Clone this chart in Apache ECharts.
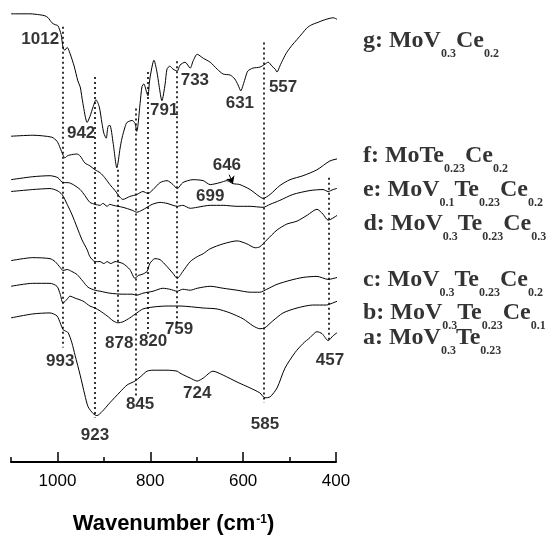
<!DOCTYPE html>
<html><head><meta charset="utf-8">
<script src="https://cdn.jsdelivr.net/npm/echarts@6/dist/echarts.min.js"></script>
<style>html,body{margin:0;padding:0;background:#fff}#c{width:555px;height:540px}</style>
</head><body><div id="c"></div>
<script>
// Wavenumber (cm-1) vs. offset transmittance (arbitrary units)
const curveG = [[1100,454],[1059,454],[1038,453],[1027,452],[1020,450],[1012,445],[1005,443],[999,442],[992,433],[988,420],[984,417],[979,420],[973,414],[964,401],[956,386],[951,380],[945,363],[936,344],[930,350],[923,360],[917,367],[910,360],[904,343],[900,333],[895,328],[891,340],[887,341],[880,323],[872,298],[865,318],[861,328],[854,340],[850,344],[839,346],[833,343],[829,335],[822,363],[818,380],[814,383],[807,373],[805,371],[801,388],[792,407],[786,396],[781,381],[775,366],[768,383],[764,398],[758,401],[751,398],[742,396],[736,402],[725,405],[714,399],[708,406],[699,413],[686,409],[671,405],[656,398],[643,393],[628,392],[618,388],[611,382],[605,376],[600,382],[596,388],[590,396],[579,399],[564,400],[553,403],[546,405],[538,401],[531,398],[527,395],[521,401],[514,408],[506,415],[495,422],[484,428],[473,434],[462,440],[452,443],[441,445],[424,448],[406,450],[396,448],[385,445],[374,443],[366,442],[359,438]];
const curveF = [[1100,330],[1053,331],[1012,329],[1001,325],[994,318],[988,311],[984,308],[979,310],[973,311],[958,312],[951,310],[941,303],[930,300],[919,296],[908,293],[898,288],[887,281],[876,275],[865,268],[859,266],[844,269],[829,271],[816,274],[805,272],[794,276],[779,283],[764,285],[751,281],[742,277],[730,283],[708,286],[686,285],[671,281],[650,283],[635,285],[622,282],[607,281],[585,276],[568,270],[557,267],[542,271],[521,280],[499,286],[471,290],[441,296],[413,305],[391,308],[370,314],[359,313]];
const curveE = [[1100,286],[1053,289],[1016,290],[999,288],[988,283],[977,283],[966,281],[951,276],[941,270],[930,263],[919,261],[908,260],[902,262],[893,259],[887,261],[880,260],[859,258],[839,255],[829,253],[818,255],[807,258],[796,261],[779,263],[764,262],[751,260],[742,259],[730,260],[714,257],[699,258],[671,260],[643,260],[613,259],[585,259],[557,258],[542,261],[521,265],[493,271],[456,275],[428,276],[417,274],[406,276],[391,278],[359,280]];
const curveD = [[1100,274],[1053,276],[1016,277],[1001,275],[990,271],[979,261],[969,251],[958,238],[947,225],[936,215],[930,208],[919,203],[908,203],[900,201],[893,203],[885,201],[876,203],[859,201],[844,195],[833,186],[826,189],[818,190],[807,193],[801,201],[790,206],[779,205],[764,198],[751,191],[742,186],[730,193],[714,203],[699,208],[686,211],[671,216],[643,221],[613,224],[592,221],[574,217],[564,218],[549,225],[527,235],[506,241],[484,244],[462,250],[441,256],[428,251],[417,245],[397,250],[385,255],[370,260],[355,251]];
const curveC = [[1100,204],[1053,207],[1016,206],[1005,203],[994,197],[988,194],[979,195],[969,193],[958,190],[945,183],[934,177],[919,174],[908,173],[887,171],[859,170],[839,170],[829,169],[816,171],[794,173],[773,176],[758,175],[742,173],[730,175],[714,174],[699,176],[671,178],[643,176],[613,174],[585,172],[564,172],[549,175],[527,180],[499,184],[471,187],[441,188],[417,185],[397,187],[370,191],[355,190]];
const curveB = [[1100,178],[1053,181],[1016,181],[1001,178],[994,170],[988,161],[979,165],[973,168],[962,166],[945,163],[930,158],[919,156],[908,153],[893,148],[880,143],[870,141],[859,142],[844,146],[829,151],[816,155],[794,157],[764,158],[736,158],[686,156],[656,155],[628,151],[600,145],[579,138],[564,135],[553,136],[536,143],[514,151],[484,156],[450,159],[420,159],[413,160],[391,164],[370,167],[355,169]];
const curveA = [[1100,146],[1053,150],[1016,151],[1001,148],[994,141],[988,134],[984,133],[977,131],[969,121],[962,108],[951,88],[941,68],[934,56],[923,49],[915,47],[904,51],[887,60],[865,71],[850,78],[833,82],[822,86],[807,92],[794,93],[764,93],[742,92],[736,90],[714,85],[699,82],[686,85],[665,92],[643,88],[613,81],[585,75],[564,70],[553,65],[542,66],[527,75],[510,95],[488,111],[471,120],[456,126],[441,132],[430,130],[417,123],[406,128],[391,133],[376,136],[355,136]];

// sample formulas: [main text, subscript] pairs
const sampleNames = ['g','f','e','d','c','b','a'];
const sampleFormulas = [
  [['g: MoV','0.3'],['Ce','0.2']],
  [['f: MoTe','0.23'],['Ce','0.2']],
  [['e: MoV','0.1'],['Te','0.23'],['Ce','0.2']],
  [['d: MoV','0.3'],['Te','0.23'],['Ce','0.3']],
  [['c: MoV','0.3'],['Te','0.23'],['Ce','0.2']],
  [['b: MoV','0.3'],['Te','0.23'],['Ce','0.1']],
  [['a: MoV','0.3'],['Te','0.23']]
];
const sampleLabelX = [342,342,342,341,342,342,342];
const sampleLabelY = [426,310,275,241,184,151,125];

// band annotations
const bandText = ['1012','942','791','733','631','557','646','699','993','878','820','759','457','845','724','585','923'];
const bandTextX = [1037,949,770,704,607,514,635,671,994,867,794,738,413,822,699,553,919];
const bandTextY = [428,333,356,387,363,380,301,269,102,120,122,134,103,58,70,38,27];

// dotted guide lines
const guideX = [988,919,870,831,805,742,555,415];
const guideTop = [441,390,296,358,395,406,425,288];
const guideBottom = [116,45,140,66,130,140,60,121];

// arrow 646
const arrowFrom = [630,291];
const arrowTo = [622,282];

// axis ticks
const majorTicks = [400,600,800,1000];
const minorTicks = [500,700,900,1100];

const curves = [curveG, curveF, curveE, curveD, curveC, curveB, curveA];

function buildFormula(parts){
  return parts.map(p => '{m|' + p[0] + '}{s|' + p[1] + '}').join('');
}

const chart = echarts.init(document.getElementById('c'), null, {renderer:'canvas'});

const series = curves.map((d, i) => ({
  name: sampleNames[i],
  type: 'line',
  data: d,
  showSymbol: false,
  symbol: 'none',
  smooth: 0.25,
  clip: false,
  silent: true,
  lineStyle: {color: '#000', width: 1}
}));

series.push({
  type: 'scatter',
  symbolSize: 0,
  clip: false,
  silent: true,
  data: bandText.map((t, i) => [bandTextX[i], bandTextY[i], t]),
  label: {
    show: true, position: 'inside',
    formatter: p => p.value[2],
    fontFamily: 'Liberation Sans, Arial', fontWeight: 'bold', fontSize: 17, color: '#000'
  },
  markLine: {
    silent: true, symbol: ['none','none'], animation: false,
    label: {show: false},
    lineStyle: {color: '#000', width: 1.6, type: [2,3]},
    data: guideX.map((x, i) => [{coord: [x, guideTop[i]]}, {coord: [x, guideBottom[i]]}])
      .concat([[{coord: arrowFrom, lineStyle: {type: 'solid', width: 1}, symbol: 'none'}, {coord: arrowTo, symbol: 'arrow', symbolSize: 7}]])
  }
});

series.push({
  type: 'scatter',
  symbolSize: 0,
  clip: false,
  silent: true,
  data: sampleFormulas.map((f, i) => [sampleLabelX[i], sampleLabelY[i], buildFormula(f)]),
  label: {
    show: true, position: 'inside', align: 'left', verticalAlign: 'middle',
    formatter: p => p.value[2],
    rich: {
      m: {fontFamily: 'Liberation Serif, Times New Roman', fontWeight: 'bold', fontSize: 24, lineHeight: 25, verticalAlign: 'top', color: '#000'},
      s: {fontFamily: 'Liberation Serif, Times New Roman', fontWeight: 'bold', fontSize: 12, lineHeight: 12, padding: [19,0,0,0], verticalAlign: 'top', color: '#000'}
    }
  }
});

chart.setOption({
  animation: false,
  backgroundColor: '#fff',
  grid: {left: 11, right: 219, top: 0, bottom: 72, containLabel: false},
  xAxis: [{
    type: 'value', min: 400, max: 1100, interval: 100, inverse: true, position: 'bottom',
    axisLine: {show: true, lineStyle: {color: '#000', width: 2}},
    axisTick: {show: true, inside: true, length: 10, lineStyle: {color: '#000', width: 1.5}, customValues: majorTicks},
    axisLabel: {show: true, customValues: majorTicks, formatter: v => String(v), color: '#000', fontSize: 17, margin: 11, fontFamily: 'Liberation Sans, Arial'},
    splitLine: {show: false},
    name: '{t|Wavenumber (cm}{u|-1}{t|)}',
    nameLocation: 'middle', nameGap: 51,
    nameTextStyle: {
      rich: {
        t: {fontFamily: 'Liberation Sans, Arial', fontWeight: 'bold', fontSize: 22, color: '#000', lineHeight: 24, verticalAlign: 'top'},
        u: {fontFamily: 'Liberation Sans, Arial', fontWeight: 'bold', fontSize: 12, color: '#000', lineHeight: 12, padding: [1,0,0,1], verticalAlign: 'top'}
      }
    }
  }, {
    type: 'value', min: 400, max: 1100, interval: 100, inverse: true, position: 'bottom', offset: 0,
    axisLine: {show: false},
    axisTick: {show: true, inside: true, length: 5, lineStyle: {color: '#000', width: 1.5}, customValues: minorTicks},
    axisLabel: {show: false},
    splitLine: {show: false}
  }],
  yAxis: {type: 'value', min: 0, max: 468, show: false},
  series: series
});
</script>
</body></html>
